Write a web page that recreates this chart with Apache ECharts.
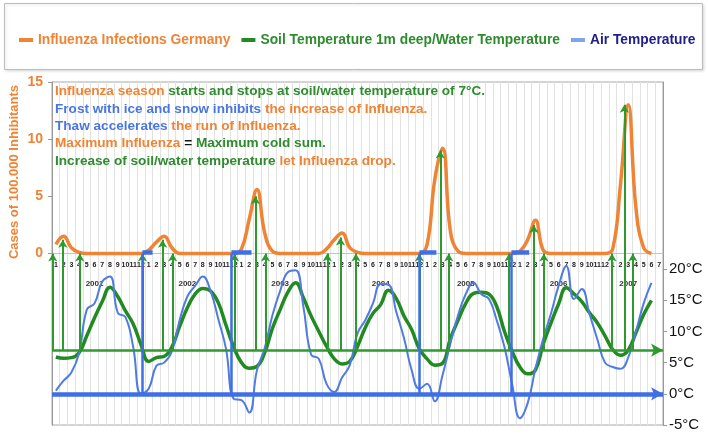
<!DOCTYPE html>
<html>
<head>
<meta charset="utf-8">
<script src="https://cdn.jsdelivr.net/npm/echarts@6.0.0/dist/echarts.min.js"></script>
<style>
	html,body{margin:0;padding:0;background:#fff;}
	#chart{width:708px;height:438px;}
</style>
</head>
<body>
<div id="chart"></div>
<script>
	// month ticks, Jan 2001 .. Jul 2007
	var monthLabels = ['1','2','3','4','5','6','7','8','9','10','11','12',
		'1','2','3','4','5','6','7','8','9','10','11','12',
		'1','2','3','4','5','6','7','8','9','10','11','12',
		'1','2','3','4','5','6','7','8','9','10','11','12',
		'1','2','3','4','5','6','7','8','9','10','11','12',
		'1','2','3','4','5','6','7','8','9','10','11','12',
		'1','2','3','4','5','6','7'];
	var yearIdx = [5, 17, 29, 42, 53, 65, 74];
	var yearNames = ['2001','2002','2003','2004','2005','2006','2007'];

	// cases per 100.000
	var influenza = [0.8,1.5,0.5,0.1,0,0,0,0,0,0,0,0,
		0.3,1.0,1.5,0.5,0,0,0,0,0,0,0,0,
		0.4,3.0,5.6,1.8,0.2,0,0,0,0,0,0,0.4,
		1.2,1.8,0.5,0.1,0,0,0,0,0,0,0,0,
		0.8,6.5,9.2,2.0,0.2,0,0,0,0,0,0,0,
		0.2,1.2,2.9,0.3,0,0,0,0,0,0,0,0,
		0.4,6.0,13.0,4.0,0.5,0];
	// degC
	var soilTemp = [5.9,5.7,5.8,6.6,9.3,12.2,14.8,17.1,15.6,13.3,11.2,7.9,
		5.2,5.8,6.0,7.5,10.8,13.8,16.0,16.9,16.5,14.6,11.0,7.5,
		5.0,4.1,4.4,6.6,10.5,13.5,16.3,17.8,15.4,12.5,10.0,7.6,
		5.6,4.8,5.2,7.6,10.6,12.9,14.3,16.6,15.3,12.5,10.3,7.2,
		5.6,4.6,4.9,8.8,11.8,14.5,16.1,16.3,16.0,14.0,10.0,6.8,
		4.3,3.2,3.8,7.9,11.3,14.4,17.0,16.0,14.8,13.0,11.4,9.3,
		7.1,6.2,7.0,9.8,12.7,15.0];
	var airTemp = [0.5,2.1,3.4,6.5,13.5,14.5,18.0,18.8,13.0,12.3,7.5,0.0,
		0.8,4.5,5.0,6.8,11.8,15.6,17.3,18.8,16.5,12.0,7.2,-0.8,
		-1.0,-3.0,3.8,7.3,12.6,16.5,19.5,19.8,14.0,6.3,5.6,1.6,
		0.3,2.6,4.6,9.7,11.8,14.5,17.6,17.5,13.2,9.0,3.8,0.8,
		1.6,-1.2,3.0,8.0,12.6,16.0,17.8,16.0,15.2,11.8,7.5,1.5,
		-3.9,-1.5,4.0,8.8,12.8,17.3,20.5,15.2,16.8,12.8,8.8,5.0,
		4.3,4.0,5.8,10.0,14.5,17.8];

	// green arrows: month position and influenza level they point to
	var arrowAt = [-0.4,0.9,3.1,11.2,13.8,15.1,23.1,25.8,27.1,35.1,36.8,38.8,47.0,49.7,50.8,58.6,61.8,63.1,71.9,73.5,74.6];
	var arrowTo = [0,1.2,0,0,1.2,0,0,5.0,0,0,1.4,0,0,9.0,0,0,2.5,0,0,13.0,0];
	// frost periods (air temp at 0 degC)
	var frostStart = [11.2, 22.7, 47.0, 58.9];
	var frostEnd = [12.5, 25.3, 49.2, 61.2];
	var startTemp = 7;

	var FLU_MIN = -15, FLU_MAX = 15, T_MIN = -5, T_MAX = 50;
	var GRID_TOP = 82, GRID_BOTTOM = 13, CHART_H = 438;
	var ORANGE = '#ee8434', GREEN = '#238a23', BLUE = '#4f7be2';

	var yearLabels = monthLabels.map(function(){ return ''; });
	yearIdx.forEach(function(ix, k){ yearLabels[ix] = yearNames[k]; });

	tempToFlu = function(t){
		return FLU_MIN + (t - T_MIN) / (T_MAX - T_MIN) * (FLU_MAX - FLU_MIN);
	};

	toPairs = function(arr){
		return arr.map(function(v, i){ return [i, v]; });
	};

	// month axis sits on the influenza zero line
	var plotH = CHART_H - GRID_TOP - GRID_BOTTOM;
	var zeroOffset = -plotH * (0 - FLU_MIN) / (FLU_MAX - FLU_MIN);

	var arrowLines = arrowAt.map(function(x, k){
		return [{coord:[x, tempToFlu(startTemp)]}, {coord:[x, arrowTo[k]]}];
	});
	var frostLines = frostStart.map(function(x){
		return [{coord:[x, tempToFlu(0)]}, {coord:[x, 0]}];
	});
	var frostBars = frostStart.map(function(x, k){
		return [{coord:[x, 0.1], lineStyle:{width:4.5}}, {coord:[frostEnd[k], 0.1]}];
	});

	var font = "'Liberation Sans', Arial, sans-serif";

	var myChart = echarts.init(document.getElementById('chart'));
	var option = {
		animation: false,
		backgroundColor: '#fff',
		legend: {
			left: 14,
			top: 28,
			itemWidth: 14,
			itemHeight: 4,
			itemGap: 11,
			icon: 'rect',
			textStyle: {fontFamily: font, fontSize: 13.8, fontWeight: 'bold'},
			data: [
				{name:'Influenza Infections Germany', textStyle:{color:ORANGE}},
				{name:'Soil Temperature 1m deep/Water Temperature', textStyle:{color:'#2e8b2e'}},
				{name:'Air Temperature', itemStyle:{color:'#80a4ea'}, textStyle:{color:'#20208c'}}
			]
		},
		grid: {
			left: 52, right: 45, top: GRID_TOP, bottom: GRID_BOTTOM,
			show: true, borderColor: '#a8a8a8', borderWidth: 1
		},
		xAxis: [
			{
				type: 'category', data: monthLabels, boundaryGap: true, position: 'bottom', offset: zeroOffset,
				axisLine: {show: true, onZero: false, lineStyle: {color: '#c4c4c4'}},
				axisTick: {show: false},
				axisLabel: {interval: 0, fontSize: 7, fontWeight: 'bold', color: '#222', margin: 8, fontFamily: font, hideOverlap: false},
				splitLine: {show: true, interval: 0, lineStyle: {color: '#e2e2e2'}}
			},
			{type: 'value', min: -0.5, max: 78.5, show: false, axisLine: {onZero: false}},
			{
				type: 'category', data: yearLabels, boundaryGap: true, position: 'bottom', offset: zeroOffset,
				axisLine: {show: false, onZero: false},
				axisTick: {show: false},
				axisLabel: {interval: 0, fontSize: 8, fontWeight: 'bold', color: '#333', margin: 26, fontFamily: font},
				splitLine: {show: false}
			}
		],
		yAxis: [
			{
				type: 'value', min: FLU_MIN, max: FLU_MAX, interval: 5, position: 'left',
				axisLine: {show: true, onZero: false, lineStyle: {color: '#999'}},
				axisTick: {show: true, customValues: [0,5,10,15], length: 4, lineStyle: {color: '#999'}},
				axisLabel: {customValues: [0,5,10,15], color: ORANGE, fontSize: 14, fontWeight: 'bold', fontFamily: font, margin: 9},
				splitLine: {show: false}
			},
			{
				type: 'value', min: T_MIN, max: T_MAX, interval: 5, position: 'right',
				axisLine: {show: true, onZero: false, lineStyle: {color: '#999'}},
				axisTick: {show: true, customValues: [-5,0,5,10,15,20], length: 4, lineStyle: {color: '#999'}},
				axisLabel: {customValues: [-5,0,5,10,15,20], formatter: '{value}°C', color: '#111', fontSize: 15, fontFamily: font, margin: 6},
				splitLine: {show: false}
			}
		],
		series: [
			{
				name: 'Influenza Infections Germany', type: 'line', xAxisIndex: 1, yAxisIndex: 0,
				data: toPairs(influenza), smooth: 0.45, showSymbol: false,
				lineStyle: {color: ORANGE, width: 3.5}, itemStyle: {color: ORANGE},
				markLine: {
					silent: true, symbol: ['none', 'arrow'], symbolSize: [7, 8],
					label: {show: false},
					data: arrowLines,
					lineStyle: {color: '#2e9a2e', width: 2, type: 'solid'}
				}
			},
			{
				name: 'Soil Temperature 1m deep/Water Temperature', type: 'line', xAxisIndex: 1, yAxisIndex: 1,
				data: toPairs(soilTemp), smooth: 0.45, showSymbol: false,
				lineStyle: {color: GREEN, width: 3.5}, itemStyle: {color: GREEN},
				markLine: {
					silent: true, symbol: ['none', 'arrow'], symbolSize: [10, 12],
					label: {show: false},
					data: [
						{yAxis: startTemp, lineStyle: {color: '#2e9a2e', width: 2.5, type: 'solid'}},
						{yAxis: 0, symbolSize: [16, 16], lineStyle: {color: '#3f6ee6', width: 4.5, type: 'solid'}}
					]
				}
			},
			{
				name: 'Air Temperature', type: 'line', xAxisIndex: 1, yAxisIndex: 0,
				data: toPairs(airTemp.map(tempToFlu)), smooth: 0.45, showSymbol: false,
				lineStyle: {color: BLUE, width: 2}, itemStyle: {color: BLUE},
				markLine: {
					silent: true, symbol: ['none', 'none'],
					label: {show: false},
					data: frostLines.concat(frostBars),
					lineStyle: {color: '#3f6ee6', width: 2.5, type: 'solid'}
				}
			}
		],
		graphic: [
			{
				type: 'rect', left: 4, top: 3, z: -1,
				shape: {width: 698, height: 66},
				style: {fill: '#fff', stroke: '#bdbdbd', lineWidth: 1, shadowBlur: 3, shadowOffsetX: 1, shadowOffsetY: 1, shadowColor: 'rgba(0,0,0,0.15)'}
			},
			{
				type: 'text', left: 55, top: 83, z: 100,
				style: {
					text: [
						'{o|Influenza season} {g|starts and stops at soil/water temperature of 7°C.}',
						'{b|Frost with ice and snow inhibits} {o|the increase of Influenza.}',
						'{b|Thaw accelerates} {o|the run of Influenza.}',
						'{o|Maximum Influenza} {k|=} {g|Maximum cold sum.}',
						'{g|Increase of soil/water temperature} {o|let Influenza drop.}'
					].join('\n'),
					font: 'bold 13.6px ' + font,
					lineHeight: 17.3,
					rich: {
						o: {fill: ORANGE, font: 'bold 13.6px ' + font, lineHeight: 17.3},
						g: {fill: '#2e8b2e', font: 'bold 13.6px ' + font, lineHeight: 17.3},
						b: {fill: '#4a76e0', font: 'bold 13.6px ' + font, lineHeight: 17.3},
						k: {fill: '#111', font: 'bold 13.6px ' + font, lineHeight: 17.3}
					}
				}
			},
			{
				type: 'text', x: 14, y: 172, rotation: Math.PI / 2, z: 100,
				style: {
					text: 'Cases of 100.000 Inhibitants',
					fill: ORANGE, font: 'bold 13px ' + font,
					align: 'center', verticalAlign: 'middle'
				}
			}
		]
	};
	myChart.setOption(option);
</script>
</body>
</html>
